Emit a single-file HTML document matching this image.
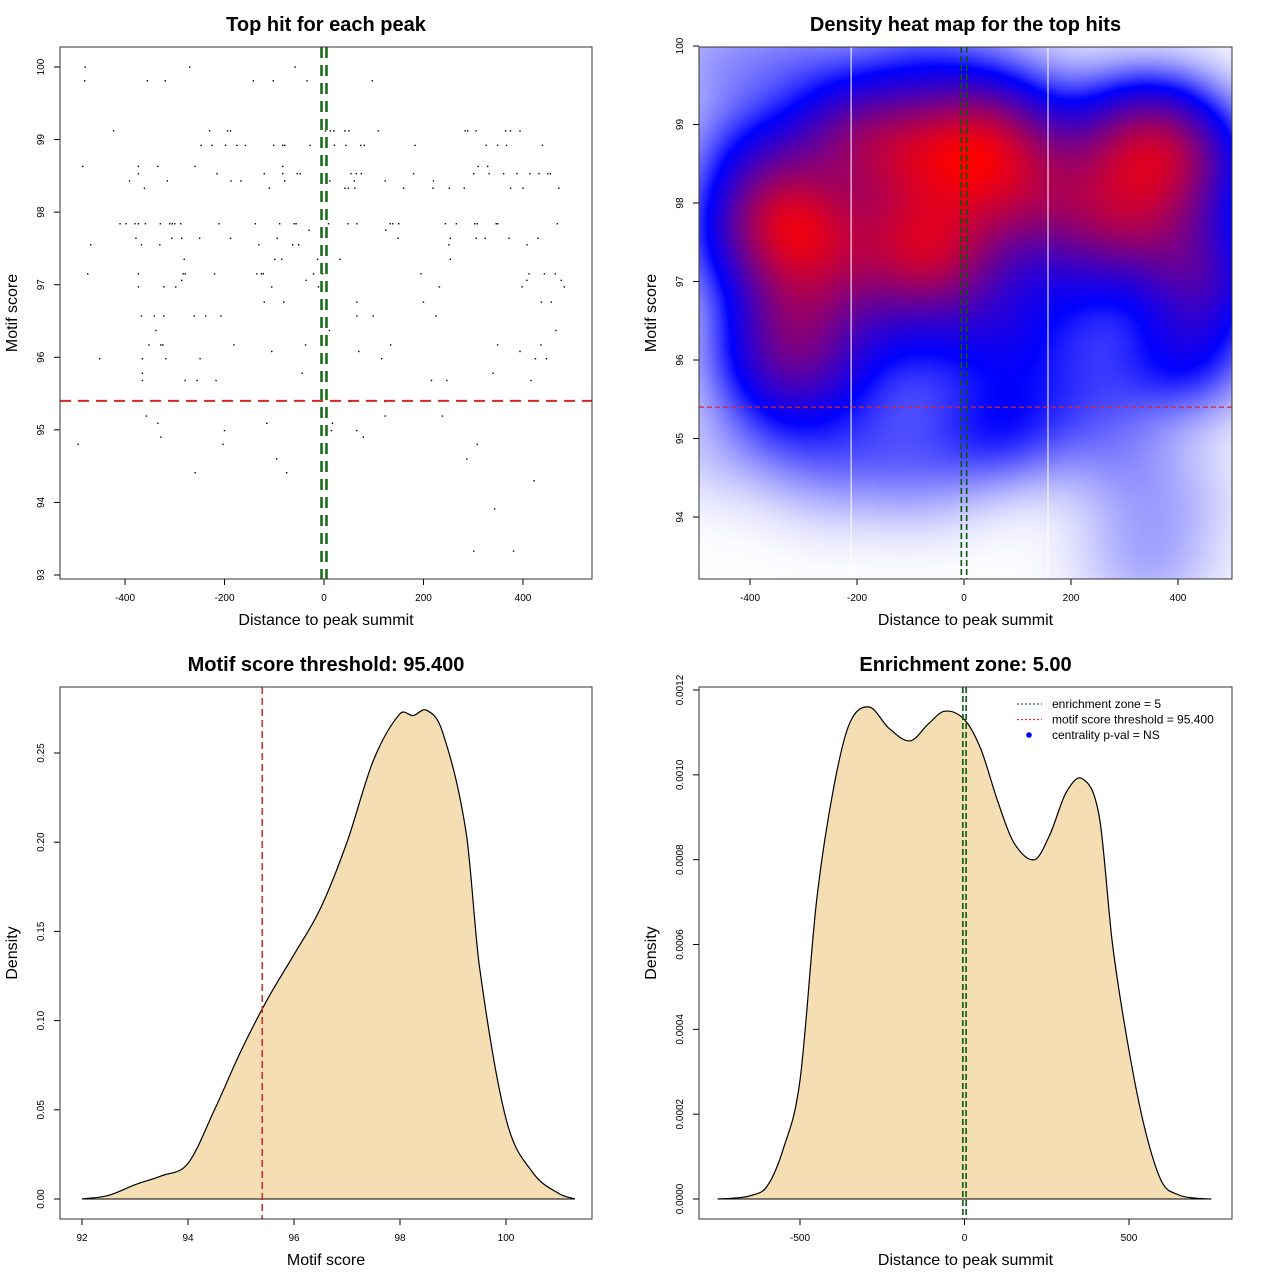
<!DOCTYPE html>
<html><head><meta charset="utf-8">
<style>
html,body{margin:0;padding:0;background:#fff;}
#wrap{position:relative;width:1280px;height:1280px;overflow:hidden;font-family:"Liberation Sans",sans-serif;}
#heat{position:absolute;left:699px;top:47px;}
#svg{position:absolute;left:0;top:0;}
</style></head>
<body>
<div id="wrap">
<canvas id="heat" width="533" height="532"></canvas>
<svg id="svg" width="1280" height="1280" xmlns="http://www.w3.org/2000/svg"></svg>
</div>
<script>
// ---------- data ----------
const rowScores = [100,99.81,99.12,98.92,98.63,98.53,98.43,98.33,97.84,97.75,97.64,97.55,97.35,97.15,97.06,96.97,96.76,96.57,96.37,96.17,96.08,95.98,95.78,95.68,95.39,95.19,95.09,94.99,94.90,94.80,94.60,94.41,94.30,93.91,93.33];
const rowDists = [
[-480,-270,-58],
[-481,-355,-319,-142,-102,-34,97],
[-423,-230,-194,-188,3,13,20,42,50,109,284,289,306,365,375,394],
[-247,-225,-198,-175,-158,-101,-83,-79,-28,21,44,74,81,183,326,349,367,439],
[-485,-373,-334,-259,-83,310,329],
[-373,-215,-120,-83,-54,-48,54,65,75,180,301,332,361,388,414,432,450,455],
[-391,-315,-187,-167,-79,12,61,123,220],
[-361,-110,42,49,62,160,219,252,282,375,400,472],
[-410,-398,-380,-373,-359,-329,-310,-305,-300,-288,-211,-138,-89,-60,-56,9,48,66,133,138,150,244,266,303,308,346,349,469],
[-30,124],
[-378,-306,-286,-250,-188,-94,149,254,306,324,372,430],
[-469,-367,-330,-131,-63,-51,251,408],
[-281,-99,-85,-13,32,254],
[-475,-373,-283,-279,-220,-135,-126,-122,-21,-3,195,412,443,465],
[-286,-36,408,477],
[-373,-322,-298,-105,-11,232,398,483],
[-120,-81,66,200,437,457],
[-367,-341,-322,-261,-238,-207,66,99,225],
[-338,11,466],
[-352,-328,-324,-181,-37,134,349,436],
[-105,70,394],
[-451,-365,-318,-249,116,425,447],
[-365,-44,340],
[-365,-279,-255,-217,216,247,416],
[52,123],
[-357,123,238],
[-334,-115,17],
[-200,15,66],
[-328,79],
[-494,-203,308],
[-95,287],
[-259,-75],
[422],
[343],
[301,381]
];
const scoreThreshold = 95.4;
const enrichZone = 5;
// motif score density (x = score, y = density)
const scoreDensX = [92,92.5,93,93.5,94,94.5,95,95.5,96,96.5,97,97.5,98,98.25,98.5,98.8,99.25,99.5,100,100.5,101,101.3];
const scoreDensY = [0,0.002,0.008,0.013,0.02,0.05,0.083,0.112,0.137,0.163,0.2,0.246,0.272,0.271,0.274,0.262,0.205,0.13,0.045,0.015,0.003,0];
// distance density
const distDensX = [-750,-700,-650,-600,-550,-500,-450,-400,-350,-290,-230,-165,-110,-60,0,50,100,150,213,260,310,360,410,450,500,550,600,650,700,750];
const distDensY = [0,0.000002,0.000008,0.00003,0.00012,0.00028,0.0007,0.00096,0.00112,0.00116,0.00111,0.00108,0.00112,0.00115,0.00113,0.00106,0.00094,0.00084,0.0008,0.00086,0.00096,0.00099,0.0009,0.0006,0.00035,0.00016,0.00004,0.00001,0.000002,0];
const xTicksTop = [-400,-200,0,200,400];
const yTicksTL = [93,94,95,96,97,98,99,100];
const yTicksTR = [94,95,96,97,98,99,100];
const xTicksBL = [92,94,96,98,100];
const yTicksBL = [0,0.05,0.10,0.15,0.20,0.25];
const yLabBL = ["0.00","0.05","0.10","0.15","0.20","0.25"];
const xTicksBR = [-500,0,500];
const yTicksBR = [0,0.0002,0.0004,0.0006,0.0008,0.001,0.0012];
const yLabBR = ["0.0000","0.0002","0.0004","0.0006","0.0008","0.0010","0.0012"];

const hitDist = [], hitScore = [];
rowDists.forEach((r,i)=>r.forEach(d=>{hitDist.push(d);hitScore.push(rowScores[i]);}));

// ---------- helpers ----------
const NS="http://www.w3.org/2000/svg";
const svg=document.getElementById('svg');
function el(tag,attrs,parent,text){const e=document.createElementNS(NS,tag);for(const k in attrs)e.setAttribute(k,attrs[k]);if(text!==undefined)e.textContent=text;(parent||svg).appendChild(e);return e;}
function lin(d0,d1,p0,p1){return v=>p0+(v-d0)*(p1-p0)/(d1-d0);}
function smoothPath(pts){let d=`M${pts[0][0]},${pts[0][1]}`;for(let i=0;i<pts.length-1;i++){const p0=pts[Math.max(i-1,0)],p1=pts[i],p2=pts[i+1],p3=pts[Math.min(i+2,pts.length-1)];
 const dx=p2[0]-p1[0];
 const s1=(p2[1]-p0[1])/((p2[0]-p0[0])||1), s2=(p3[1]-p1[1])/((p3[0]-p1[0])||1);
 const c1=[p1[0]+dx/3,p1[1]+s1*dx/3],c2=[p2[0]-dx/3,p2[1]-s2*dx/3];
 d+=`C${c1[0]},${c1[1]} ${c2[0]},${c2[1]} ${p2[0]},${p2[1]}`;}return d;}

function panel(name,box,title,xlab,ylab,xt,xs,xl,yt,ys,yl){
  const g=el('g',{});
  
  
  const t=el('text',{x:(box.x0+box.x1)/2,y:box.y0-16,'text-anchor':'middle','font-size':20,'font-weight':'bold'},g,title);
  
  const xa=el('text',{x:(box.x0+box.x1)/2,y:box.y1+46,'text-anchor':'middle','font-size':16},g,xlab);
  
  const cx=box.x0-43,cy=(box.y0+box.y1)/2;
  const ya=el('text',{x:cx,y:cy,'text-anchor':'middle','font-size':16,transform:`rotate(-90 ${cx} ${cy})`},g,ylab);
  
  xt.forEach((v,i)=>{const x=xs(v);
    const tk=el('line',{x1:x,x2:x,y1:box.y1,y2:box.y1+6,stroke:'#000'},g);
    
    const lb=el('text',{x:x,y:box.y1+22,'text-anchor':'middle','font-size':10},g,xl[i]);
    });
  yt.forEach((v,i)=>{const y=ys(v);
    const tk=el('line',{x1:box.x0-6,x2:box.x0,y1:y,y2:y,stroke:'#000'},g);
    
    const lx=box.x0-16;
    const lb=el('text',{x:lx,y:y,'text-anchor':'middle','font-size':10,transform:`rotate(-90 ${lx} ${y})`},g,yl[i]);
    });
  return g;
}
function frame(box,g){const r=el('rect',{x:box.x0,y:box.y0,width:box.x1-box.x0,height:box.y1-box.y0,fill:'none',stroke:'#333','stroke-width':1},g);}

// ---------- Panel 1: scatter ----------
{
const box={x0:60,x1:592,y0:47,y1:579};
const xs=lin(0,400,324,523), ys=lin(100,93,67,575);
const g=panel('scatter-panel',box,'Top hit for each peak','Distance to peak summit','Motif score',xTicksTop,xs,xTicksTop.map(String),yTicksTL,ys,yTicksTL.map(String));
hitDist.forEach((d,i)=>{const p=el('rect',{x:xs(d)-0.7,y:ys(hitScore[i])-0.7,width:1.4,height:1.4,fill:'#000'},g);});
const h=el('line',{x1:box.x0,x2:box.x1,y1:ys(scoreThreshold),y2:ys(scoreThreshold),stroke:'#d62728','stroke-width':2,'stroke-dasharray':'11,7'},g);
[-enrichZone,enrichZone].forEach(v=>{const l=el('line',{x1:xs(v),x2:xs(v),y1:box.y0,y2:box.y1,stroke:'#1a6e1a','stroke-width':2.6,'stroke-dasharray':'11,7'},g);});
frame(box,g);
}

// ---------- Panel 2: heatmap ----------
{
const box={x0:699,x1:1232,y0:47,y1:579};
const xs=lin(0,400,964,1178), ys=lin(100,94,46,517);
const g=panel('heatmap-panel',box,'Density heat map for the top hits','Distance to peak summit','Motif score',xTicksTop,xs,xTicksTop.map(String),yTicksTR,ys,yTicksTR.map(String));
const cv=document.getElementById('heat'),ctx=cv.getContext('2d');
const W=533,H=532,img=ctx.createImageData(W,H);
const bx=85,by=0.5;
const gx=[],gy=[];
const n=hitDist.length;
const xi=lin(964-box.x0,1178-box.x0,0,400), yi=lin(46-box.y0,517-box.y0,100,94);
for(let px=0;px<W;px++){const a=new Float32Array(n);const xv=xi(px);for(let k=0;k<n;k++){const u=(xv-hitDist[k])/bx;a[k]=Math.exp(-0.5*u*u);}gx.push(a);}
for(let py=0;py<H;py++){const a=new Float32Array(n);const yv=yi(py);for(let k=0;k<n;k++){const u=(yv-hitScore[k])/by;a[k]=Math.exp(-0.5*u*u);}gy.push(a);}
const dens=new Float32Array(W*H);let mx=0;
for(let py=0;py<H;py++){const b=gy[py];for(let px=0;px<W;px++){const a=gx[px];let s=0;for(let k=0;k<n;k++)s+=a[k]*b[k];dens[py*W+px]=s;if(s>mx)mx=s;}}
for(let i=0;i<W*H;i++){let t=dens[i]/mx;let r,gg,bb;
 const m=0.34;
 if(t<m){const f=t/m;r=255*(1-f);gg=255*(1-f);bb=255;}
 else{const f=Math.min(1,(t-m)/(1.0-m));r=255*f;gg=0;bb=255*(1-f);}
 img.data[i*4]=r;img.data[i*4+1]=gg;img.data[i*4+2]=bb;img.data[i*4+3]=255;}
ctx.putImageData(img,0,0);
[-211,157].forEach(v=>{const l=el('line',{x1:xs(v),x2:xs(v),y1:box.y0,y2:box.y1,stroke:'#fff','stroke-width':1},g);});
const h=el('line',{x1:box.x0,x2:box.x1,y1:ys(scoreThreshold),y2:ys(scoreThreshold),stroke:'#d62728','stroke-width':1.2,'stroke-dasharray':'5,3'},g);
[-enrichZone,enrichZone].forEach(v=>{const l=el('line',{x1:xs(v),x2:xs(v),y1:box.y0,y2:box.y1,stroke:'#0a5a0a','stroke-width':1.6,'stroke-dasharray':'6,3'},g);});
frame(box,g);
}

// ---------- Panel 3: score density ----------
{
const box={x0:60,x1:592,y0:687,y1:1219};
const xs=lin(92,100,82,506), ys=lin(0,0.25,1199,753);
const g=panel('score-density-panel',box,'Motif score threshold: 95.400','Motif score','Density',xTicksBL,xs,xTicksBL.map(String),yTicksBL,ys,yLabBL);
const pts=scoreDensX.map((v,i)=>[xs(v),ys(scoreDensY[i])]);
const d=smoothPath(pts);
const a=el('path',{d:d+'Z',fill:'#f5deb3',stroke:'none'},g);
const c=el('path',{d:d,fill:'none',stroke:'#000','stroke-width':1.2},g);
const b=el('line',{x1:xs(92),x2:xs(101.3),y1:ys(0),y2:ys(0),stroke:'#000'},g);
const h=el('line',{x1:xs(scoreThreshold),x2:xs(scoreThreshold),y1:box.y0,y2:box.y1,stroke:'#d62728','stroke-width':1.5,'stroke-dasharray':'7,4'},g);
frame(box,g);
}

// ---------- Panel 4: distance density ----------
{
const box={x0:699,x1:1232,y0:687,y1:1219};
const xs=lin(-500,500,800,1129), ys=lin(0,0.0012,1199,690);
const g=panel('distance-density-panel',box,'Enrichment zone: 5.00','Distance to peak summit','Density',xTicksBR,xs,xTicksBR.map(String),yTicksBR,ys,yLabBR);
const pts=distDensX.map((v,i)=>[xs(v),ys(distDensY[i])]);
const d=smoothPath(pts);
const a=el('path',{d:d+'Z',fill:'#f5deb3',stroke:'none'},g);
const c=el('path',{d:d,fill:'none',stroke:'#000','stroke-width':1.2},g);
const b=el('line',{x1:xs(-750),x2:xs(750),y1:ys(0),y2:ys(0),stroke:'#000'},g);
[-enrichZone,enrichZone].forEach(v=>{const l=el('line',{x1:xs(v),x2:xs(v),y1:box.y0,y2:box.y1,stroke:'#0a5a0a','stroke-width':1.6,'stroke-dasharray':'6,3'},g);});
const lg=el('g',{},g);
const items=[['enrichment zone = 5','#2e6b2e','line'],['motif score threshold = 95.400','#ff3030','line'],['centrality p-val = NS','#0000ff','dot']];
items.forEach((it,i)=>{const y=704+i*15.5;
 const e=el('g',{},lg);
 if(it[2]==='line')el('line',{x1:1017,x2:1042,y1:y,y2:y,stroke:it[1],'stroke-width':1.3,'stroke-dasharray':'2,2'},e);
 else el('circle',{cx:1029,cy:y,r:2.8,fill:it[1]},e);
 el('text',{x:1052,y:y+4,'font-size':12},e,it[0]);});
frame(box,g);
}
</script>
</body></html>
